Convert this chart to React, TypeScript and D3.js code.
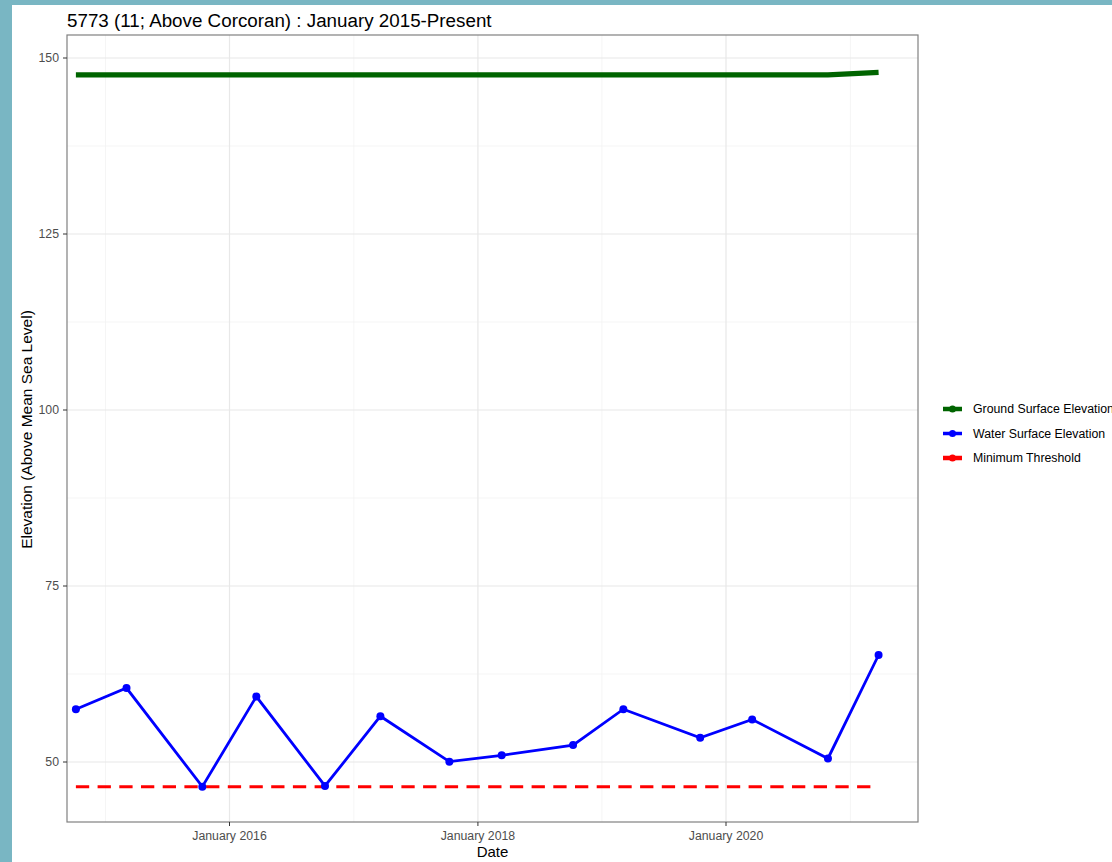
import React from "react";
import * as d3 from "d3";

const dates = [
  "2014-10-06", "2015-03-04", "2015-10-13", "2016-03-20", "2016-10-08", "2017-03-20", "2017-10-09",
  "2018-03-12", "2018-10-08", "2019-03-05", "2019-10-17", "2020-03-18", "2020-10-27", "2021-03-25",
];
const waterElev = [57.5, 60.5, 46.5, 59.3, 46.6, 56.5, 50.05, 50.95, 52.4, 57.5, 53.45, 56.05, 50.5, 65.2];
const groundElev = [147.6, 147.6, 147.6, 147.6, 147.6, 147.6, 147.6, 147.6, 147.6, 147.6, 147.6, 147.6, 147.6, 147.95];
const minThreshold = [46.5, 46.5, 46.5, 46.5, 46.5, 46.5, 46.5, 46.5, 46.5, 46.5, 46.5, 46.5, 46.5, 46.5];
const yTicks = [50, 75, 100, 125, 150];
const yMinor = [62.5, 87.5, 112.5, 137.5];
const xTicks = ["2016-01-01", "2018-01-01", "2020-01-01"];
const xMinor = ["2015-01-01", "2017-01-01", "2019-01-01", "2021-01-01"];
const legendLabels = ["Ground Surface Elevation", "Water Surface Elevation", "Minimum Threshold"];
const legendColors = ["#006400", "#0000ff", "#ff0000"];

const W = 1112, H = 862;
const L = 67, R = 918, T = 35, B = 822;
const FONT = "'Liberation Sans', Arial, sans-serif";

export default function App() {
  const parse = d3.timeParse("%Y-%m-%d");
  const ds = dates.map((d) => parse(d) as Date);
  const x = d3.scaleTime()
    .domain([parse("2016-01-01") as Date, parse("2020-01-01") as Date])
    .range([229.5, 726]);
  const y = d3.scaleLinear().domain([50, 62.5]).range([762, 674]);

  const lineGen = (vals: number[]) =>
    d3.line<number>().x((_, i) => x(ds[i])).y((v) => y(v))(vals) || "";

  return (
    <div style={{ position: "absolute", left: 0, top: 0 }}>
      <svg width={W} height={H} style={{ display: "block", fontFamily: FONT }}>
        <rect x={0} y={0} width={W} height={H} fill="#79b6c3" />
        <rect x={12} y={5} width={W - 12} height={H - 5} fill="#ffffff" />
        <text x={67} y={26.5} fontSize={18.8} fill="#000">
          5773 (11; Above Corcoran) : January 2015-Present
        </text>
        {/* grid */}
        {yMinor.map((v) => (
          <line key={"ym" + v} x1={L} x2={R} y1={y(v)} y2={y(v)} stroke="#f3f3f3" strokeWidth={0.8} />
        ))}
        {xMinor.map((d) => (
          <line key={"xm" + d} x1={x(parse(d) as Date)} x2={x(parse(d) as Date)} y1={T} y2={B} stroke="#f3f3f3" strokeWidth={0.8} />
        ))}
        {yTicks.map((v) => (
          <line key={"yg" + v} x1={L} x2={R} y1={y(v)} y2={y(v)} stroke="#e8e8e8" strokeWidth={1.2} />
        ))}
        {xTicks.map((d) => (
          <line key={"xg" + d} x1={x(parse(d) as Date)} x2={x(parse(d) as Date)} y1={T} y2={B} stroke="#e8e8e8" strokeWidth={1.2} />
        ))}
        {/* data */}
        <path d={lineGen(groundElev)} fill="none" stroke="#006400" strokeWidth={5.2} />
        <path d={lineGen(minThreshold)} fill="none" stroke="#ff0000" strokeWidth={3} strokeDasharray="13.3,8.4" />
        <path d={lineGen(waterElev)} fill="none" stroke="#0000ff" strokeWidth={2.8} />
        {waterElev.map((v, i) => (
          <circle key={"p" + i} cx={x(ds[i])} cy={y(v)} r={4} fill="#0000ff" />
        ))}
        {/* border */}
        <rect x={L} y={T} width={R - L} height={B - T} fill="none" stroke="#808080" strokeWidth={1.2} />
        {/* y axis */}
        {yTicks.map((v) => (
          <g key={"yt" + v}>
            <line x1={L - 4} x2={L} y1={y(v)} y2={y(v)} stroke="#333" strokeWidth={1} />
            <text x={L - 8} y={y(v)} dy="0.35em" textAnchor="end" fontSize={12.3} fill="#4d4d4d">{v}</text>
          </g>
        ))}
        {/* x axis */}
        {xTicks.map((d) => {
          const dt = parse(d) as Date;
          return (
            <g key={"xt" + d}>
              <line x1={x(dt)} x2={x(dt)} y1={B} y2={B + 4} stroke="#333" strokeWidth={1} />
              <text x={x(dt)} y={B + 17.5} textAnchor="middle" fontSize={12.3} fill="#4d4d4d">
                {d3.timeFormat("%B %Y")(dt)}
              </text>
            </g>
          );
        })}
        <text x={(L + R) / 2} y={857} textAnchor="middle" fontSize={15} fill="#000">Date</text>
        <text transform={`translate(32, ${(T + B) / 2 + 1}) rotate(-90)`} textAnchor="middle" fontSize={15.5} fill="#000">
          Elevation (Above Mean Sea Level)
        </text>
        {/* legend */}
        {legendLabels.map((lab, i) => {
          const cy = 409 + i * 24.5;
          return (
            <g key={lab}>
              <line x1={943} x2={962} y1={cy} y2={cy} stroke={legendColors[i]} strokeWidth={i === 1 ? 3.5 : 4.5} />
              <circle cx={952.5} cy={cy} r={3.5} fill={legendColors[i]} />
              <text x={973} y={cy} dy="0.35em" fontSize={12.3} fill="#000">{lab}</text>
            </g>
          );
        })}
      </svg>
    </div>
  );
}
